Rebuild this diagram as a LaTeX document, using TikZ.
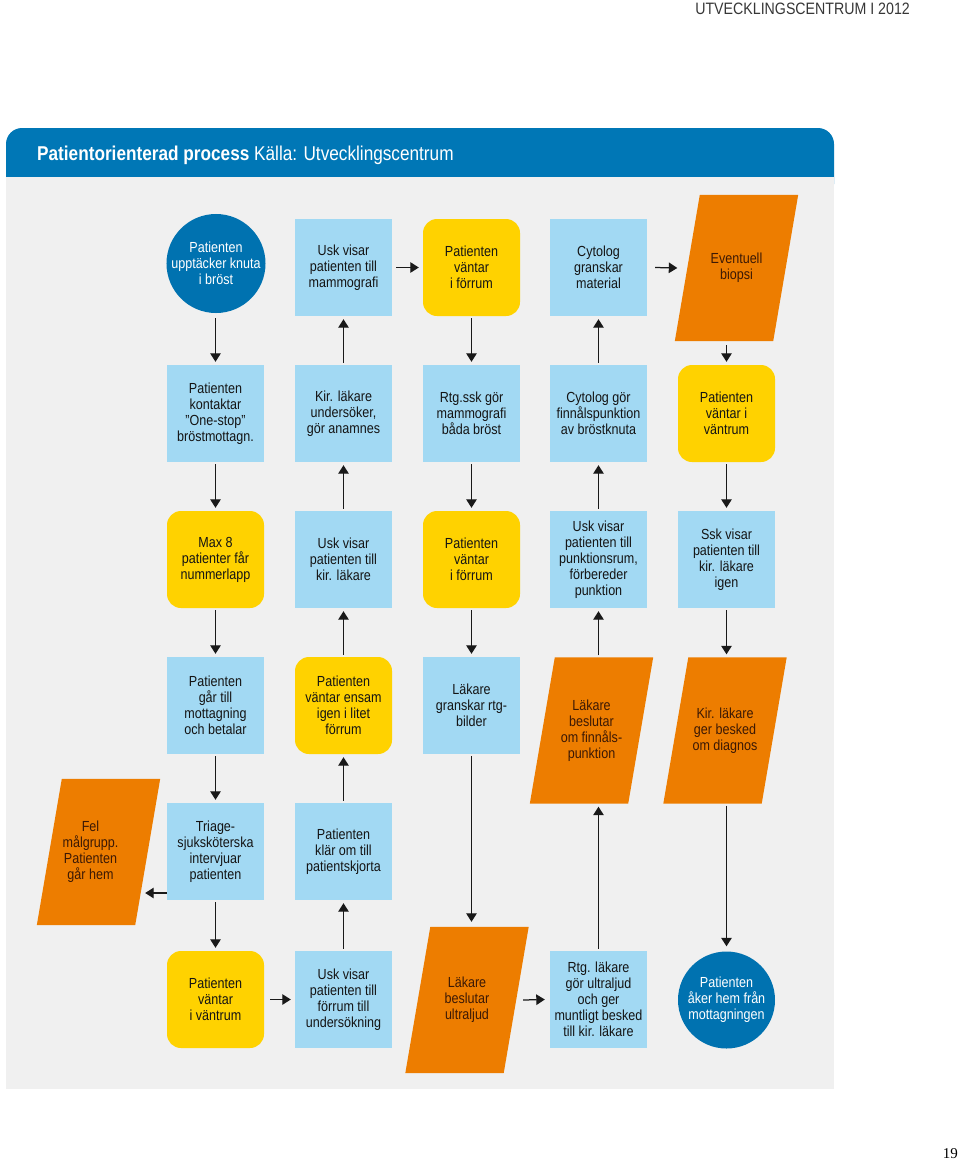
\documentclass[tikz,border=0pt]{standalone}
\usepackage{fontspec}
\setmainfont{Liberation Sans}[FakeStretch=0.86]
\newfontfamily\numfont{Liberation Serif}
\usetikzlibrary{arrows.meta}
\pgfdeclarelayer{bg}
\pgfsetlayers{bg,main}
\definecolor{hdr}{RGB}{0,119,182}
\definecolor{panel}{RGB}{240,240,240}
\definecolor{lblue}{RGB}{162,217,243}
\definecolor{ylw}{RGB}{255,210,0}
\definecolor{orng}{RGB}{237,125,0}
\definecolor{dblue}{RGB}{0,114,176}
\definecolor{arrc}{RGB}{25,25,25}
\definecolor{otext}{RGB}{60,25,5}
\definecolor{btext}{RGB}{20,20,20}
\newcommand\fs{\fontsize{14.6}{16}\selectfont}
\newcommand\parafill[3]{\fill[orng] ([xshift=#2]#1.north west) -- ([xshift=#2]#1.north east) -- ([xshift=#3]#1.south east) -- ([xshift=#3]#1.south west) -- cycle;}
\tikzset{
  box/.style={rectangle, fill=lblue, minimum width=97pt, minimum height=97pt, inner sep=0pt, align=center, font=\fs, text=btext},
  ybox/.style={box, fill=ylw, rounded corners=14pt},
  circ/.style={circle, fill=dblue, minimum size=97pt, inner sep=0pt, align=center, font=\fs, text=white},
  para/.style={rectangle, minimum width=98pt, minimum height=146pt, inner sep=0pt, align=center, font=\fs, text=otext},
  arr/.style={draw=arrc, line width=1.25pt, -{Triangle[width=10.5pt,length=8.5pt]}}
}
\begin{document}
\begin{tikzpicture}[x=1pt,y=-1pt]
\useasboundingbox (0,0) rectangle (960,1163);
\begin{pgfonlayer}{bg}
  \fill[white] (0,0) rectangle (960,1163);
  \fill[hdr, rounded corners=16pt] (6,128) rectangle (834,200);
  \fill[panel] (6,177) rectangle (834,1089);
\end{pgfonlayer}
\node[anchor=base east, inner sep=0pt, text={rgb,255:red,55;green,55;blue,55}, font=\fontsize{16.5}{18}\selectfont] (top) at (910,14) {UTVECKLINGSCENTRUM I 2012};
\node[anchor=base west, inner sep=0pt, text=white, font=\fontsize{20}{22}\selectfont] (title) at (37,160) {\textbf{Patientorienterad process} Källa: Utvecklingscentrum};
\node[anchor=base east, inner sep=0pt, font=\numfont\fontsize{15}{18}\selectfont] (pg) at (958,1158) {19};

% row 1
\node[circ] (r11) at (216,263.5) {Patienten\\upptäcker knuta\\i bröst};
\node[box] (r12) at (343.5,267.5) {Usk visar\\patienten till\\mammografi};
\node[ybox] (r13) at (471.5,267.5) {Patienten\\väntar\\i förrum};
\node[box] (r14) at (598.5,267.5) {Cytolog\\granskar\\material};
\node[para] (p15) at (736.5,268) {Eventuell\\biopsi};
% row 2
\node[box] (r21) at (215.5,413.5) {Patienten\\kontaktar\\”One-stop”\\bröstmottagn.};
\node[box] (r22) at (343.5,413.5) {Kir. läkare\\undersöker,\\gör anamnes};
\node[box] (r23) at (471.5,413.5) {Rtg.ssk gör\\mammografi\\båda bröst};
\node[box] (r24) at (598.5,413.5) {Cytolog gör\\finnålspunktion\\av bröstknuta};
\node[ybox] (r25) at (726.5,413.5) {Patienten\\väntar i\\väntrum};
% row 3
\node[ybox] (r31) at (215.5,559.5) {Max 8\\patienter får\\nummerlapp};
\node[box] (r32) at (343.5,559.5) {Usk visar\\patienten till\\kir. läkare};
\node[ybox] (r33) at (471.5,559.5) {Patienten\\väntar\\i förrum};
\node[box] (r34) at (598.5,559.5) {Usk visar\\patienten till\\punktionsrum,\\förbereder\\punktion};
\node[box] (r35) at (726.5,559.5) {Ssk visar\\patienten till\\kir. läkare\\igen};
% row 4
\node[box] (r41) at (215.5,705.5) {Patienten\\går till\\mottagning\\och betalar};
\node[ybox] (r42) at (343.5,705.5) {Patienten\\väntar ensam\\igen i litet\\förrum};
\node[box] (r43) at (471.5,705.5) {Läkare\\granskar rtg-\\bilder};
\node[para] (p44) at (591.5,730.5) {Läkare\\beslutar\\om finnåls-\\punktion};
\node[para] (p45) at (725,730.5) {Kir. läkare\\ger besked\\om diagnos};
% row 5
\node[para] (p50) at (90.5,852) {Fel\\målgrupp.\\Patienten\\går hem};
\node[box] (r51) at (215.5,851.5) {Triage-\\sjuksköterska\\intervjuar\\patienten};
\node[box] (r52) at (343.5,851.5) {Patienten\\klär om till\\patientskjorta};
% row 6
\node[ybox] (r61) at (215.5,999.5) {Patienten\\väntar\\i väntrum};
\node[box] (r62) at (343.5,999.5) {Usk visar\\patienten till\\förrum till\\undersökning};
\node[para] (p63) at (467,1000) {Läkare\\beslutar\\ultraljud};
\node[box] (r64) at (598.5,999.5) {Rtg. läkare\\gör ultraljud\\och ger\\muntligt besked\\till kir. läkare};
\node[circ] (r65) at (726.5,1000) {Patienten\\åker hem från\\mottagningen};

\begin{pgfonlayer}{bg}
  \parafill{p15}{12.5pt}{-12.5pt}
  \parafill{p44}{12.5pt}{-12.5pt}
  \parafill{p45}{12.5pt}{-12.5pt}
  \parafill{p50}{20.5pt}{-4.5pt}
  \parafill{p63}{12.5pt}{-12.5pt}
\end{pgfonlayer}

% column 1 (down)
\draw[arr] ([yshift=-5pt]r11.south -| r21.north) -- ([yshift=3pt]r21.north);
\draw[arr] ([yshift=-2pt]r21.south) -- ([yshift=3pt]r31.north);
\draw[arr] ([yshift=-2pt]r31.south) -- ([yshift=3pt]r41.north);
\draw[arr] ([yshift=-2pt]r41.south) -- ([yshift=3pt]r51.north);
\draw[arr] ([yshift=-2pt]r51.south) -- ([yshift=3pt]r61.north);
\draw[arr] ([yshift=-41.5pt]r51.west) -- ([xshift=5.5pt,yshift=-41pt]p50.east);
\draw[arr] ([xshift=6pt]r61.east) -- ([xshift=-4pt]r62.west);
% column 2 (up)
\draw[arr] ([yshift=2pt]r62.north) -- ([yshift=-3pt]r52.south);
\draw[arr] ([yshift=2pt]r52.north) -- ([yshift=-3pt]r42.south);
\draw[arr] ([yshift=2pt]r42.north) -- ([yshift=-3pt]r32.south);
\draw[arr] ([yshift=2pt]r32.north) -- ([yshift=-3pt]r22.south);
\draw[arr] ([yshift=2pt]r22.north) -- ([yshift=-3pt]r12.south);
\draw[arr] ([xshift=4pt]r12.east) -- ([xshift=-4pt]r13.west);
% column 3 (down)
\draw[arr] ([yshift=-2pt]r13.south) -- ([yshift=3pt]r23.north);
\draw[arr] ([yshift=-2pt]r23.south) -- ([yshift=3pt]r33.north);
\draw[arr] ([yshift=-2pt]r33.south) -- ([yshift=3pt]r43.north);
\draw[arr] ([yshift=-2pt]r43.south) -- ([yshift=5pt]p63.north -| r43.south);
\draw[arr] ([xshift=7pt]p63.east) -- ([xshift=-5pt]r64.west);
% column 4 (up)
\draw[arr] ([yshift=2pt]r64.north) -- ([yshift=-3pt]p44.south -| r64.north);
\draw[arr] ([yshift=2pt]p44.north -| r34.south) -- ([yshift=-3pt]r34.south);
\draw[arr] ([yshift=2pt]r34.north) -- ([yshift=-3pt]r24.south);
\draw[arr] ([yshift=2pt]r24.north) -- ([yshift=-3pt]r14.south);
\draw[arr] ([xshift=8pt]r14.east) -- ([xshift=-10pt]p15.west);
% column 5 (down)
\draw[arr] ([yshift=-4pt]p15.south -| r25.north) -- ([yshift=3pt]r25.north);
\draw[arr] ([yshift=-2pt]r25.south) -- ([yshift=3pt]r35.north);
\draw[arr] ([yshift=-2pt]r35.south) -- ([yshift=3pt]p45.north -| r35.south);
\draw[arr] ([yshift=-2pt]p45.south -| r65.north) -- ([yshift=5pt]r65.north);
\end{tikzpicture}
\end{document}
